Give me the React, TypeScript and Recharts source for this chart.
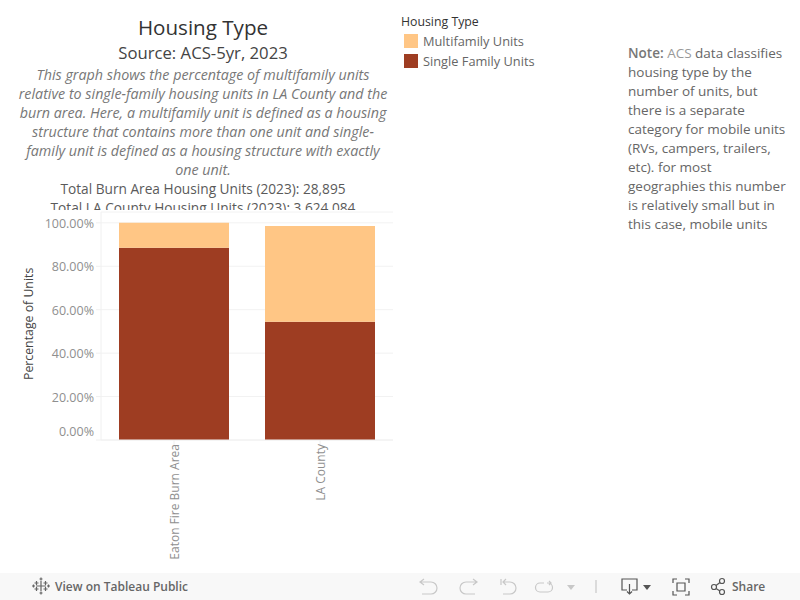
import { BarChart, Bar, XAxis, YAxis, CartesianGrid } from 'recharts';

const FONT = '"Open Sans", sans-serif';

const categories = ['Eaton Fire Burn Area', 'LA County'];
const singleFamily = [88.5, 54.4];
const multifamily = [11.5, 44.2];
const yTicks = [0, 20, 40, 60, 80, 100];

const descriptionLines = [
  'This graph shows the percentage of multifamily units',
  'relative to single-family housing units in LA County and the',
  'burn area. Here, a multifamily unit is defined as a housing',
  'structure that contains more than one unit and single-',
  'family unit is defined as a housing structure with exactly',
  'one unit.',
];
const totalLines = [
  'Total Burn Area Housing Units (2023): 28,895',
  'Total LA County Housing Units (2023): 3,624,084',
];
const noteLines = [
  'housing type by the',
  'number of units, but',
  'there is a separate',
  'category for mobile units',
  '(RVs, campers, trailers,',
  'etc). for most',
  'geographies this number',
  'is relatively small but in',
  'this case, mobile units',
];

const chartData = categories.map((name, i) => ({
  name,
  single: singleFamily[i],
  multi: multifamily[i],
}));

const YTick = ({ x, y, payload }: any) => (
  <text
    x={x}
    y={payload.value === 0 ? y - 8 : y + 1}
    dy={4}
    textAnchor="end"
    fontSize={12.5}
    fontFamily={FONT}
    fill="#8f8f8f"
  >
    {payload.value.toFixed(2)}%
  </text>
);

const XTick = ({ x, y, payload }: any) => (
  <text
    transform={`translate(${x + 5},${y - 3}) rotate(-90)`}
    textAnchor="end"
    fontSize={12}
    fontFamily={FONT}
    fill="#8f8f8f"
  >
    {payload.value}
  </text>
);

const LegendBox = () => (
  <div style={{ position: 'absolute', left: 401, top: 14, fontFamily: FONT, fontSize: 12.8 }}>
    <div style={{ color: '#333', fontSize: 12.3, height: 17, lineHeight: '15px' }}>Housing Type</div>
    {[
      { label: 'Multifamily Units', color: '#ffc685' },
      { label: 'Single Family Units', color: '#9e3d22' },
    ].map((item) => (
      <div key={item.label} style={{ display: 'flex', alignItems: 'center', height: 20, color: '#666' }}>
        <span style={{ width: 14, height: 14, background: item.color, marginLeft: 3, marginRight: 5 }} />
        {item.label}
      </div>
    ))}
  </div>
);

const Toolbar = () => (
  <div style={{ position: 'absolute', left: 0, top: 573, width: 800, height: 27, background: '#f8f8f8', fontFamily: FONT }}>
    <svg width={800} height={27} style={{ position: 'absolute', left: 0, top: 0 }} fill="none">
      <g stroke="#666" strokeWidth={1.2}>
        <path d="M41 8v10M36 13h10M36.500 8v4M34.500 10h4M45.500 8v4M43.500 10h4M36.500 14v4M34.500 16h4M45.500 14v4M43.500 16h4" />
        <path d="M41 4.500v3M39.500 6h3M41 18.500v3M39.500 20h3M33.500 11.500v3M32 13h3M48.500 11.500v3M47 13h3" />
      </g>
      <g stroke="#c8c8c8" strokeWidth={1.2}>
        <path d="M421 9h10a6 6 0 0 1 0 12h-9M424 6l-4 3 4 3" />
        <path d="M476 9h-10a6 6 0 0 0 0 12h9M473 6l4 3-4 3" />
        <path d="M501 6v6M503 9h7a6 6 0 0 1 0 12h-7M506 6l-3 3 3 3" />
        <path d="M547 10h1a4.500 4.500 0 0 1 0 9h-8a4.500 4.500 0 0 1 0-9h4M549 8l2 2-2 2" />
        <path d="M596 7v13" />
      </g>
      <path d="M567 12h8l-4 5z" fill="#c8c8c8" />
      <g stroke="#555" strokeWidth={1.2}>
        <path d="M627 17h-5V6h15v11h-5M629.500 11v10M627 18.500l2.500 2.500 2.500-2.500" />
        <path d="M673 10V6h4M685 6h4v4M689 18v4h-4M677 22h-4v-4M677 10h8v8h-8z" />
        <circle cx={714} cy={14} r={2.5} />
        <circle cx={722} cy={8} r={2.5} />
        <circle cx={722} cy={19} r={2.5} />
        <path d="M716 12.500l4-3M716 15.500l4 2.500" />
      </g>
      <path d="M643 12h8l-4 5z" fill="#555" />
    </svg>
    <span style={{ position: 'absolute', left: 55, top: 5, fontSize: 12, fontWeight: 600, color: '#666' }}>View on Tableau Public</span>
    <span style={{ position: 'absolute', left: 732, top: 5, fontSize: 12, fontWeight: 600, color: '#666' }}>Share</span>
  </div>
);

export default function App() {
  return (
    <div style={{ position: 'absolute', left: 0, top: 0, width: 800, height: 600, background: '#fff', overflow: 'hidden' }}>
      <BarChart
        width={400}
        height={573}
        data={chartData}
        barSize={110}
        margin={{ top: 212, right: 7, bottom: 0, left: 0 }}
      >
        <CartesianGrid horizontal vertical={false} stroke="#f2f2f2" />
        <XAxis
          dataKey="name"
          height={133}
          interval={0}
          tick={<XTick />}
          tickSize={5}
          tickLine={{ stroke: '#f0f0f0' }}
          axisLine={{ stroke: '#f0f0f0' }}
        />
        <YAxis
          type="number"
          domain={[0, 105]}
          ticks={yTicks}
          width={101}
          tick={<YTick />}
          tickSize={5}
          tickLine={{ stroke: '#f0f0f0' }}
          axisLine={{ stroke: '#f0f0f0' }}
          label={{
            value: 'Percentage of Units',
            angle: -90,
            position: 'insideLeft',
            dx: 24,
            dy: 54,
            fontSize: 12.3,
            fontFamily: FONT,
            fill: '#444',
          }}
        />
        <Bar dataKey="single" stackId="a" fill="#9e3d22" isAnimationActive={false} />
        <Bar dataKey="multi" stackId="a" fill="#ffc685" isAnimationActive={false} />
      </BarChart>

      <LegendBox />

      <div style={{ position: 'absolute', left: 0, top: 0, width: 406, height: 210, overflow: 'hidden', textAlign: 'center', fontFamily: FONT }}>
        <div style={{ position: 'absolute', top: 13, width: 406, fontSize: 20.6, lineHeight: '28px', color: '#333' }}>Housing Type</div>
        <div style={{ position: 'absolute', top: 42, width: 406, fontSize: 16.7, lineHeight: '22px', color: '#444' }}>Source: ACS-5yr, 2023</div>
        {descriptionLines.map((line, i) => (
          <div key={line} style={{ position: 'absolute', top: 65 + i * 19, width: 406, fontSize: 14.3, lineHeight: '19px', fontStyle: 'italic', color: '#777', whiteSpace: 'nowrap' }}>
            {line}
          </div>
        ))}
        {totalLines.map((line, i) => (
          <div key={line} style={{ position: 'absolute', top: 179 + i * 19, width: 406, fontSize: 13.7, lineHeight: '19px', color: '#5a5a5a', whiteSpace: 'nowrap' }}>
            {line}
          </div>
        ))}
      </div>

      <div style={{ position: 'absolute', left: 628, top: 44, width: 172, fontFamily: FONT, fontSize: 13.5, lineHeight: '19px', color: '#666', whiteSpace: 'nowrap' }}>
        <div>
          <span style={{ color: '#777', fontWeight: 600 }}>Note: </span>
          <span style={{ color: '#999' }}>ACS</span> data classifies
        </div>
        {noteLines.map((line) => (
          <div key={line}>{line}</div>
        ))}
      </div>

      <Toolbar />
    </div>
  );
}
